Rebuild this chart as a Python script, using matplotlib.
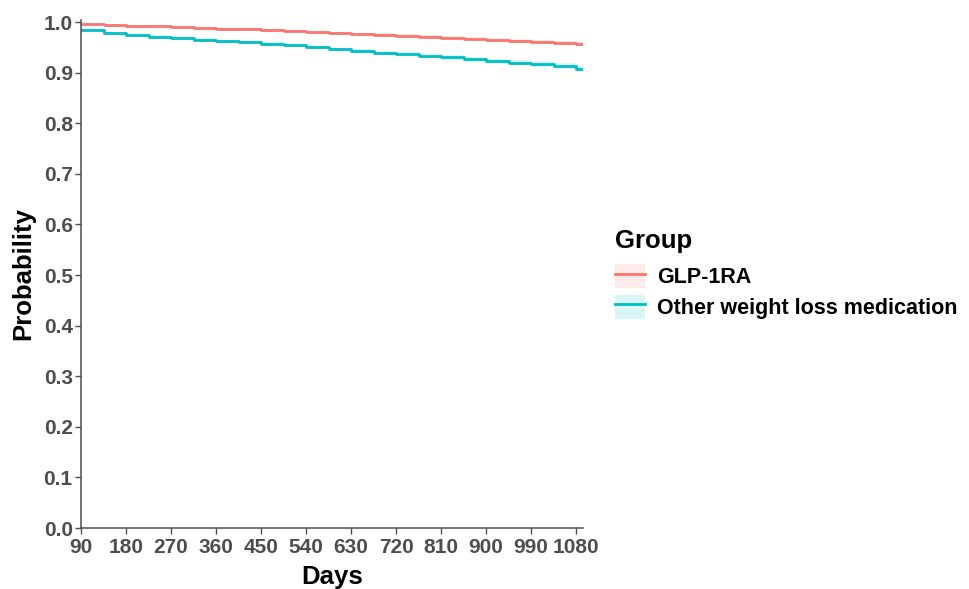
import numpy as np
import matplotlib.pyplot as plt
from matplotlib.patches import Patch
from matplotlib.lines import Line2D

plt.rcParams['font.family'] = ['Liberation Sans', 'DejaVu Sans']

# step times (days) and survival probabilities
days = [90, 135, 180, 225, 270, 315, 360, 405, 450, 495, 540, 585, 630,
        675, 720, 765, 810, 855, 900, 945, 990, 1035, 1080, 1092]
glp = [0.997, 0.995, 0.993, 0.992, 0.990, 0.989, 0.987, 0.986, 0.984, 0.983,
       0.981, 0.979, 0.977, 0.975, 0.973, 0.971, 0.969, 0.967, 0.965, 0.963,
       0.961, 0.959, 0.957, 0.957]
other = [0.985, 0.979, 0.975, 0.971, 0.968, 0.965, 0.962, 0.960, 0.957, 0.954,
         0.950, 0.946, 0.943, 0.939, 0.936, 0.933, 0.930, 0.926, 0.922, 0.920,
         0.917, 0.913, 0.908, 0.907]
glp_ci = [0.001, 0.001, 0.001, 0.001, 0.0015, 0.0015, 0.0015, 0.0015, 0.002, 0.002,
          0.002, 0.002, 0.002, 0.0025, 0.0025, 0.0025, 0.0025, 0.003, 0.003, 0.003,
          0.003, 0.0035, 0.0035, 0.0035]
other_ci = [0.002, 0.002, 0.002, 0.0025, 0.0025, 0.0025, 0.003, 0.003, 0.003, 0.003,
            0.0035, 0.0035, 0.0035, 0.004, 0.004, 0.004, 0.0045, 0.0045, 0.005, 0.005,
            0.0055, 0.006, 0.007, 0.007]
groups = ['GLP-1RA', 'Other weight loss medication']
colors = ['#F8766D', '#00BFC4']
xticks = [90, 180, 270, 360, 450, 540, 630, 720, 810, 900, 990, 1080]
yticks = [0.0, 0.1, 0.2, 0.3, 0.4, 0.5, 0.6, 0.7, 0.8, 0.9, 1.0]

fig = plt.figure(figsize=(9.69, 5.89), dpi=100)
ax = fig.add_axes([81/969, 1-528/589, 502/969, 508/589])

x = np.array(days)
for vals, ci, c in [(glp, glp_ci, colors[0]), (other, other_ci, colors[1])]:
    v = np.array(vals)
    e = np.array(ci)
    ax.fill_between(x, v - e, v + e, step='post', color=c, alpha=0.15, lw=0)
    ax.step(x, v, where='post', color=c, lw=2)

ax.set_xlim(90, 1094)
ax.set_ylim(0, 1.004)
ax.set_xticks(xticks)
ax.set_yticks(yticks)
ax.set_yticklabels([f'{t:.1f}' for t in yticks])
ax.tick_params(colors='#4D4D4D', labelsize=15, width=1, length=4)
for lab in ax.get_xticklabels() + ax.get_yticklabels():
    lab.set_fontweight('bold')
ax.tick_params(axis='x', pad=3)
ax.tick_params(axis='y', pad=2)
for s in ['top', 'right']:
    ax.spines[s].set_visible(False)
for s in ['left', 'bottom']:
    ax.spines[s].set_color('#4D4D4D')
    ax.spines[s].set_linewidth(1.1)
ax.set_xlabel('Days', fontsize=18.5, fontweight='bold')
ax.set_ylabel('Probability', fontsize=18.5, fontweight='bold')
ax.xaxis.set_label_coords(0.5, -0.073)
ax.yaxis.set_label_coords(-0.092, 0.5)

handles = [(Patch(facecolor=c, alpha=0.15, edgecolor='none'), Line2D([], [], color=c, lw=2))
           for c in colors]
leg = fig.legend(handles, groups, loc='upper left', bbox_to_anchor=(615/969, 1-229/589),
                 frameon=False, title='Group', handlelength=1.4, handleheight=1.35,
                 handletextpad=0.55, labelspacing=0.3, borderaxespad=0, borderpad=0,
                 prop={'size': 15.5, 'weight': 'bold'},
                 title_fontproperties={'size': 18.5, 'weight': 'bold'})
leg._legend_box.align = 'left'
leg._legend_box.sep = 8

fig.savefig('out.png', dpi=100)
